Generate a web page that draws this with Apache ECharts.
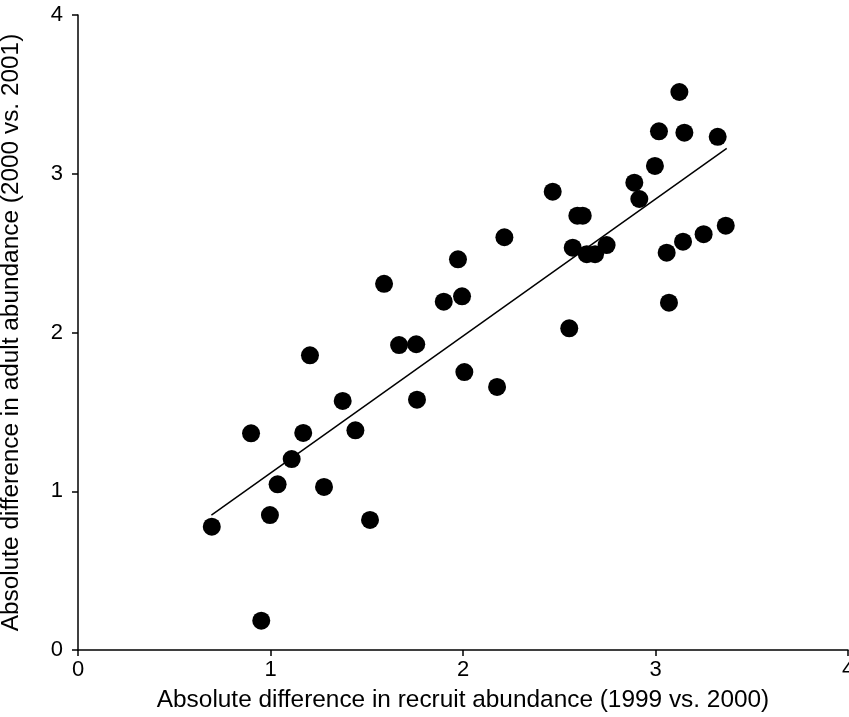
<!DOCTYPE html>
<html>
<head>
<meta charset="utf-8">
<script src="https://cdn.jsdelivr.net/npm/echarts@6/dist/echarts.min.js"></script>
<style>
html,body{margin:0;padding:0;background:#fff;}
#chart{width:849px;height:717px;}
</style>
</head>
<body>
<div id="chart"></div>
<script>
// Recruit abundance difference (1999 vs. 2000)
var recruitDiff = [0.695,0.899,0.952,0.997,1.037,1.110,1.170,1.205,1.278,1.375,1.441,1.517,1.590,1.668,1.757,1.761,1.900,1.974,1.995,2.007,2.177,
  2.215,2.466,2.552,2.594,2.622,2.570,2.643,2.686,2.746,2.890,2.916,2.997,3.018,3.124,3.150,3.323,3.058,3.070,3.143,3.250,3.365];
// Adult abundance difference (2000 vs. 2001)
var adultDiff = [0.777,1.365,0.185,0.850,1.044,1.203,1.367,1.856,1.027,1.569,1.384,0.819,2.307,1.921,1.926,1.577,2.194,2.461,2.228,1.751,1.657,
  2.600,2.887,2.026,2.736,2.736,2.534,2.493,2.493,2.551,2.944,2.841,3.049,3.267,3.515,3.259,3.233,2.503,2.188,2.572,2.619,2.673];
// Fitted regression line endpoints
var fitX = [0.693, 3.370];
var fitY = [0.850, 3.160];
var xTicks = [0,1,2,3,4];
var yTicks = [0,1,2,3,4];
var xTitle = 'Absolute difference in recruit abundance (1999 vs. 2000)';
var yTitle = 'Absolute difference in adult abundance (2000 vs. 2001)';

var points = recruitDiff.map(function(x,i){return [x, adultDiff[i]];});
var fitLine = fitX.map(function(x,i){return [x, fitY[i]];});

var font = 'Liberation Sans, Arial, sans-serif';
var chart = echarts.init(document.getElementById('chart'), null, {renderer:'canvas'});
var axisCommon = {
  type:'value', min:xTicks[0], max:xTicks[xTicks.length-1], interval:1,
  splitLine:{show:false},
  axisLine:{show:true, onZero:false, lineStyle:{color:'#000', width:1.5}},
  axisTick:{show:true, inside:false, length:6, lineStyle:{color:'#000', width:1.5}},
  nameLocation:'middle',
  nameTextStyle:{color:'#000', fontSize:24.4, fontFamily:font}
};
chart.setOption({
  animation:false,
  backgroundColor:'#fff',
  grid:{left:78, right:1, top:15, bottom:67, containLabel:false, outerBoundsMode:'none'},
  xAxis: Object.assign({}, axisCommon, {
    name:xTitle, nameGap:38,
    axisLabel:{color:'#000', fontSize:22, fontFamily:font, margin:9, showMaxLabel:true}
  }),
  yAxis: Object.assign({}, axisCommon, {
    min:yTicks[0], max:yTicks[yTicks.length-1],
    name:yTitle, nameGap:55, nameRotate:90,
    axisLabel:{color:'#000', fontSize:22, fontFamily:font, margin:15}
  }),
  series:[
    {type:'scatter', data:points, symbol:'circle', symbolSize:18, itemStyle:{color:'#000', opacity:1}, z:3},
    {type:'line', data:fitLine, showSymbol:false, symbol:'none', lineStyle:{color:'#000', width:1.5}, z:2}
  ]
});
</script>
</body>
</html>
